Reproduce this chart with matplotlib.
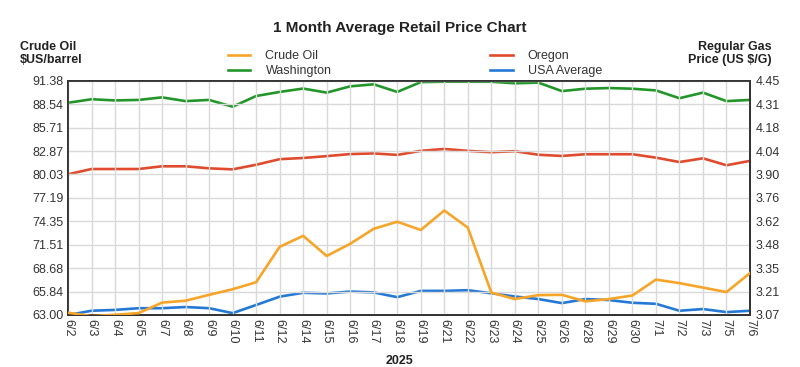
import matplotlib
matplotlib.use("Agg")
import matplotlib.pyplot as plt
import numpy as np

plt.rcParams['font.family'] = ['Liberation Sans', 'DejaVu Sans']

dates = ["6/2", "6/3", "6/4", "6/5", "6/7", "6/8", "6/9", "6/10", "6/11", "6/12",
         "6/14", "6/15", "6/16", "6/17", "6/18", "6/19", "6/21", "6/22", "6/23", "6/24",
         "6/25", "6/26", "6/28", "6/29", "6/30", "7/1", "7/2", "7/3", "7/5", "7/6"]

crude_oil = [63.28, 62.86, 63.03, 63.23, 64.50, 64.73, 65.44, 66.12, 66.97, 71.26,
             72.59, 70.15, 71.63, 73.44, 74.30, 73.30, 75.66, 73.59, 65.72, 64.93,
             65.41, 65.44, 64.65, 64.93, 65.36, 67.29, 66.86, 66.32, 65.78, 68.08]

washington = [4.320, 4.341, 4.334, 4.337, 4.352, 4.330, 4.337, 4.297, 4.360, 4.384,
              4.404, 4.380, 4.417, 4.429, 4.384, 4.442, 4.444, 4.444, 4.444, 4.435,
              4.439, 4.389, 4.403, 4.407, 4.403, 4.393, 4.347, 4.380, 4.330, 4.337]

oregon = [3.899, 3.930, 3.930, 3.930, 3.946, 3.946, 3.934, 3.928, 3.955, 3.988,
          3.995, 4.006, 4.018, 4.022, 4.013, 4.037, 4.048, 4.037, 4.029, 4.035,
          4.014, 4.007, 4.017, 4.017, 4.017, 3.997, 3.971, 3.993, 3.952, 3.978]

usa_average = [3.070, 3.095, 3.100, 3.110, 3.110, 3.117, 3.110, 3.081, 3.129, 3.178,
               3.201, 3.197, 3.208, 3.203, 3.175, 3.212, 3.212, 3.216, 3.198, 3.179,
               3.164, 3.140, 3.164, 3.158, 3.142, 3.136, 3.095, 3.105, 3.087, 3.095]

left_ticks = ["63.00", "65.84", "68.68", "71.51", "74.35", "77.19", "80.03", "82.87", "85.71", "88.54", "91.38"]
right_ticks = ["3.07", "3.21", "3.35", "3.48", "3.62", "3.76", "3.90", "4.04", "4.18", "4.31", "4.45"]

C_ORANGE = "#F7A529"
C_GREEN = "#23962A"
C_RED = "#E04B2E"
C_BLUE = "#2479D6"

fig = plt.figure(figsize=(8.0, 3.67), dpi=100)
ax = fig.add_axes([0.085, 0.1417, 0.8525, 0.6383])
ax2 = ax.twinx()

x = np.arange(len(dates))
lw = 1.9
l_crude, = ax.plot(x, crude_oil, color=C_ORANGE, lw=lw, label="Crude Oil", zorder=3)
l_wa, = ax2.plot(x, washington, color=C_GREEN, lw=lw, label="Washington")
l_or, = ax2.plot(x, oregon, color=C_RED, lw=lw, label="Oregon")
l_us, = ax2.plot(x, usa_average, color=C_BLUE, lw=lw, label="USA Average")

lt = [float(t) for t in left_ticks]
rt = [float(t) for t in right_ticks]
ax.set_ylim(lt[0], lt[-1])
ax2.set_ylim(rt[0], rt[-1])
ax.set_xlim(0, len(dates) - 1)
ax.set_yticks(np.linspace(lt[0], lt[-1], len(lt)))
ax.set_yticklabels(left_ticks)
ax2.set_yticks(np.linspace(rt[0], rt[-1], len(rt)))
ax2.set_yticklabels(right_ticks)
ax.set_xticks(x)
ax.set_xticklabels(dates, rotation=-90)

ax.grid(True, color="#d9d9d9", lw=1.0, zorder=0)
ax.set_axisbelow(True)
for a in (ax, ax2):
    for s in a.spines.values():
        s.set_color("#333333")
        s.set_linewidth(1.3)
ax.tick_params(axis='both', length=0, labelsize=9, colors="#333333", pad=3)
ax.tick_params(axis='x', pad=3)
ax2.tick_params(axis='y', length=0, labelsize=9, colors="#333333", pad=4)
ax.set_zorder(ax2.get_zorder() + 1)
ax.patch.set_visible(False)

fig.text(0.5, 0.925, "1 Month Average Retail Price Chart", ha="center", va="center",
         fontsize=11, fontweight="bold", color="#222222")
fig.text(0.025, 0.855, "Crude Oil\n$US/barrel", ha="left", va="center",
         fontsize=9, fontweight="bold", color="#222222", linespacing=1.1)
fig.text(0.965, 0.855, "Regular Gas\nPrice (US $/G)", ha="right", va="center",
         fontsize=9, fontweight="bold", color="#222222", linespacing=1.1)
fig.text(0.5, 0.016, "2025", ha="center", va="center", fontsize=9,
         fontweight="bold", color="#222222")

leg_kw = dict(frameon=False, fontsize=9, handlelength=1.8, labelspacing=0.25,
              handletextpad=1.2, borderpad=0, borderaxespad=0, loc="upper left")
leg1 = fig.legend([l_crude, l_wa], ["Crude Oil", "Washington"],
                  bbox_to_anchor=(228 / 800, 1 - 50 / 367), **leg_kw)
leg2 = fig.legend([l_or, l_us], ["Oregon", "USA Average"],
                  bbox_to_anchor=(490 / 800, 1 - 50 / 367), **leg_kw)
for lg in (leg1, leg2):
    for t in lg.get_texts():
        t.set_color("#333333")

fig.savefig("out.png", dpi=100)
